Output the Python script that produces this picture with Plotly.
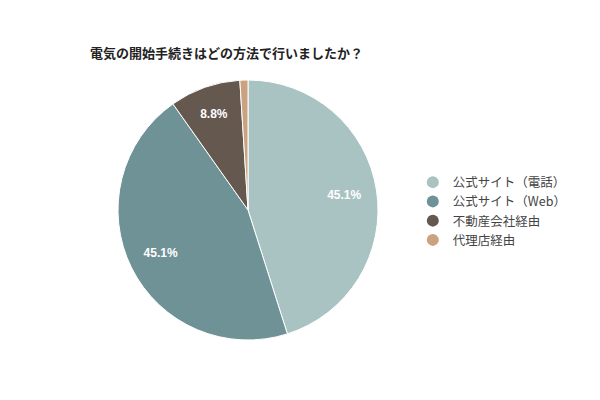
import plotly.graph_objects as go

categories = ["公式サイト（電話）", "公式サイト（Web）", "不動産会社経由", "代理店経由"]
values = [45.1, 45.1, 8.8, 1.0]
colors = ["#a9c2c2", "#6e9296", "#65584f", "#caa27f"]
title = "電気の開始手続きはどの方法で行いましたか？"

FONT = "Noto Sans CJK JP"
LABEL_FONT = "Liberation Sans"

labels_text = [f"{v:.1f}%" if v >= 5 else "" for v in values]
domain = dict(x=[118/600, 378/600], y=[1-340/400, 1-80/400])

fig = go.Figure()
# filled pie
fig.add_trace(go.Pie(
    labels=categories,
    values=values,
    textinfo="none",
    marker=dict(colors=colors, line=dict(color="white", width=1)),
    sort=False,
    direction="clockwise",
    rotation=0,
    showlegend=False,
    domain=domain,
    hoverinfo="label+percent",
))
# transparent ring that carries the percentage labels further out
fig.add_trace(go.Pie(
    labels=categories,
    values=values,
    text=labels_text,
    textinfo="text",
    textposition="inside",
    insidetextorientation="horizontal",
    textfont=dict(family=LABEL_FONT, size=12, color="white", weight="bold"),
    marker=dict(colors=["rgba(0,0,0,0)"] * len(values), line=dict(width=0)),
    hole=0.5,
    sort=False,
    direction="clockwise",
    rotation=0,
    showlegend=False,
    domain=domain,
    hoverinfo="skip",
))

for name, col in zip(categories, colors):
    fig.add_trace(go.Scatter(
        x=[None], y=[None], mode="markers", name=name,
        marker=dict(symbol="circle", size=13, color=col),
        showlegend=True,
    ))

fig.update_layout(
    width=600, height=400,
    margin=dict(l=0, r=0, t=0, b=0),
    paper_bgcolor="white", plot_bgcolor="white",
    font=dict(family=FONT, color="#333333"),
    xaxis=dict(visible=False), yaxis=dict(visible=False),
    legend=dict(
        x=0.688, y=1-211/400, xanchor="left", yanchor="middle",
        font=dict(family=FONT, size=12.5, color="#444444"),
        itemsizing="constant", tracegroupgap=0,
        bgcolor="rgba(0,0,0,0)",
    ),
    annotations=[dict(
        text=f"<b>{title}</b>", x=88/600, y=1-52/400, xref="paper", yref="paper",
        xanchor="left", yanchor="middle", showarrow=False,
        font=dict(family=FONT, size=13, color="#222222"),
    )],
)

fig.write_html("out.html", config={"displayModeBar": False},
               post_script="document.body.style.margin='0';")
